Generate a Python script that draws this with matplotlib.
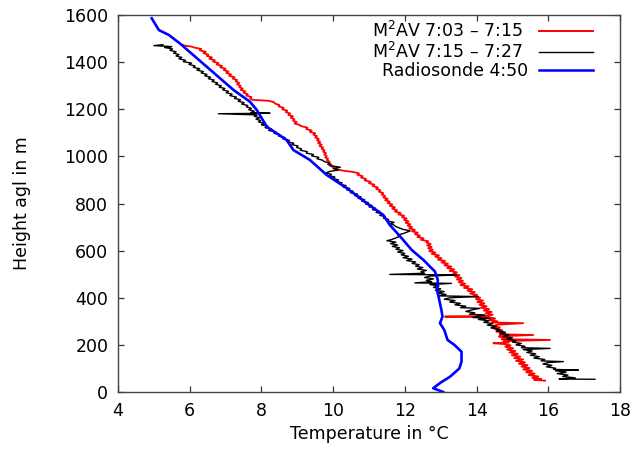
import matplotlib
matplotlib.use("Agg")
import matplotlib.pyplot as plt

# ---------------- data ----------------
# Radiosonde 4:50
sonde_h = [0, 16, 40, 65, 100, 129, 171, 200, 221, 263, 292, 320, 348, 376, 433, 475, 511,
           560, 603, 660, 709, 751, 801, 865, 921, 985, 1027, 1070, 1126, 1197, 1232, 1282,
           1381, 1480, 1515, 1536, 1586]
sonde_t = [13.07, 12.79, 13.00, 13.26, 13.52, 13.58, 13.58, 13.38, 13.19, 13.10, 12.98, 13.05,
           13.02, 12.98, 12.90, 12.92, 12.84, 12.52, 12.19, 11.87, 11.58, 11.40, 10.94, 10.38,
           9.82, 9.35, 8.89, 8.70, 8.15, 7.87, 7.68, 7.22, 6.47, 5.72, 5.42, 5.14, 4.94]

# M2AV 7:15 - 7:27 (black)
m2b_h = [54, 55, 60, 66, 72, 78, 84, 90, 93, 96, 101, 107, 113, 119, 125, 129, 132, 138, 144, 150,
         156, 162, 168, 174, 180, 185, 188, 194, 200, 206, 212, 218, 224, 230, 236, 242, 248, 254,
         260, 266, 272, 278, 284, 290, 296, 302, 308, 313, 316, 322, 327, 330, 336, 342, 348, 355,
         358, 364, 370, 376, 382, 388, 394, 400, 405, 408, 414, 420, 426, 432, 438, 444, 450, 456,
         461, 463, 468, 474, 480, 486, 492, 497, 499, 504, 510, 516, 522, 528, 534, 540, 546, 552,
         558, 564, 570, 576, 582, 588, 594, 600, 606, 612, 618, 624, 630, 636, 642, 648, 654, 660,
         666, 672, 678, 684, 690, 696, 702, 708, 714, 720, 726, 732, 738, 744, 750, 756, 762, 768,
         774, 780, 786, 792, 798, 804, 810, 816, 822, 828, 834, 840, 846, 852, 858, 864, 870, 876,
         882, 888, 894, 900, 906, 912, 918, 924, 930, 936, 942, 948, 954, 960, 966, 972, 978, 984,
         990, 996, 1002, 1008, 1014, 1020, 1026, 1032, 1038, 1044, 1050, 1056, 1062, 1068, 1074,
         1080, 1086, 1092, 1098, 1104, 1110, 1116, 1122, 1128, 1134, 1140, 1146, 1152, 1158, 1164,
         1170, 1176, 1181, 1183, 1186, 1192, 1198, 1204, 1210, 1216, 1222, 1228, 1234, 1240, 1246,
         1252, 1258, 1264, 1270, 1276, 1282, 1288, 1294, 1300, 1306, 1312, 1318, 1324, 1330, 1336,
         1342, 1348, 1354, 1360, 1366, 1372, 1378, 1384, 1390, 1396, 1402, 1408, 1414, 1420, 1426,
         1432, 1438, 1444, 1450, 1456, 1462, 1466, 1470, 1474]
m2b_t = [17.30, 16.30, 16.75, 16.40, 16.55, 16.25, 16.50, 16.20, 16.84, 16.15, 16.20, 15.95, 16.10,
         15.85, 16.00, 16.42, 15.80, 15.90, 15.60, 15.75, 15.50, 15.65, 15.40, 15.55, 15.30, 16.05,
         15.25, 15.35, 15.10, 15.25, 15.00, 15.10, 14.85, 15.00, 14.75, 14.90, 14.65, 14.80, 14.55,
         14.65, 14.40, 14.55, 14.30, 14.45, 14.20, 14.35, 14.05, 14.37, 13.90, 14.05, 14.23, 13.80,
         13.95, 13.70, 13.85, 14.09, 13.55, 13.70, 13.40, 13.55, 13.25, 13.40, 13.10, 13.25, 14.05,
         12.95, 13.15, 12.90, 13.10, 12.85, 13.00, 12.80, 12.95, 12.70, 13.30, 12.28, 12.75, 12.60,
         12.80, 12.55, 12.70, 13.44, 11.58, 12.55, 12.45, 12.60, 12.35, 12.50, 12.30, 12.40, 12.20,
         12.30, 12.05, 12.20, 11.95, 12.10, 11.90, 12.00, 11.80, 11.95, 11.75, 11.85, 11.65, 11.80,
         11.60, 11.75, 11.50, 11.65, 11.75, 11.85, 11.80, 11.95, 12.05, 12.15, 11.95, 11.85, 11.75,
         11.70, 11.60, 11.70, 11.50, 11.55, 11.40, 11.45, 11.30, 11.38, 11.20, 11.28, 11.10, 11.18,
         11.00, 11.08, 10.90, 10.98, 10.80, 10.88, 10.70, 10.78, 10.60, 10.68, 10.48, 10.56, 10.38,
         10.46, 10.28, 10.36, 10.18, 10.25, 10.08, 10.15, 9.98, 10.05, 9.90, 9.95, 9.80, 9.90, 10.15,
         10.00, 10.20, 9.95, 9.85, 9.90, 9.75, 9.70, 9.55, 9.60, 9.40, 9.45, 9.25, 9.28, 9.08, 9.12,
         8.98, 9.02, 8.85, 8.90, 8.72, 8.78, 8.60, 8.65, 8.48, 8.52, 8.35, 8.40, 8.20, 8.28, 8.10,
         8.18, 8.00, 8.08, 7.92, 7.98, 7.85, 7.95, 7.80, 7.88, 6.80, 8.24, 7.70, 7.80, 7.65, 7.72,
         7.58, 7.62, 7.45, 7.52, 7.35, 7.42, 7.25, 7.30, 7.12, 7.18, 7.02, 7.08, 6.92, 6.98, 6.82,
         6.88, 6.72, 6.78, 6.62, 6.68, 6.52, 6.58, 6.42, 6.48, 6.32, 6.38, 6.20, 6.28, 6.10, 6.15,
         5.98, 6.05, 5.82, 5.88, 5.70, 5.78, 5.62, 5.70, 5.55, 5.62, 5.45, 5.52, 5.30, 5.50, 5.00,
         5.25]

# M2AV 7:03 - 7:15 (red)
m2r_h = [48, 52, 56, 60, 66, 72, 78, 84, 90, 96, 102, 108, 114, 120, 126, 132, 138, 144, 150, 156,
         162, 168, 174, 180, 186, 192, 198, 204, 207, 210, 216, 221, 224, 230, 236, 242, 245, 250,
         256, 262, 268, 274, 280, 286, 292, 295, 300, 306, 312, 318, 320, 323, 328, 334, 340, 346,
         352, 358, 364, 370, 376, 382, 388, 394, 400, 406, 412, 418, 424, 430, 436, 442, 448, 454,
         460, 466, 472, 478, 484, 490, 496, 502, 508, 514, 520, 526, 532, 538, 544, 550, 556, 562,
         568, 574, 580, 586, 592, 598, 604, 610, 616, 622, 628, 634, 640, 646, 652, 658, 664, 670,
         676, 682, 688, 694, 700, 706, 712, 718, 724, 730, 736, 742, 748, 754, 760, 766, 772, 778,
         784, 790, 796, 802, 808, 814, 820, 826, 832, 838, 844, 850, 856, 862, 868, 874, 880, 886,
         892, 898, 904, 910, 916, 922, 928, 934, 937, 940, 944, 948, 954, 960, 966, 972, 978, 984,
         990, 996, 1002, 1008, 1014, 1020, 1026, 1032, 1038, 1044, 1050, 1056, 1062, 1068, 1074,
         1080, 1086, 1092, 1098, 1104, 1110, 1116, 1122, 1128, 1134, 1140, 1146, 1152, 1158, 1164,
         1170, 1176, 1182, 1188, 1194, 1200, 1206, 1212, 1218, 1224, 1230, 1236, 1238, 1240, 1246,
         1252, 1258, 1264, 1270, 1276, 1282, 1288, 1294, 1300, 1306, 1312, 1318, 1324, 1330, 1336,
         1342, 1348, 1354, 1360, 1366, 1372, 1378, 1384, 1390, 1396, 1402, 1408, 1414, 1420, 1426,
         1432, 1438, 1444, 1450, 1456, 1462, 1466, 1470, 1473]
m2r_t = [15.91, 15.60, 15.80, 15.55, 15.72, 15.45, 15.62, 15.38, 15.55, 15.30, 15.48, 15.25, 15.42,
         15.18, 15.35, 15.10, 15.30, 15.05, 15.22, 14.98, 15.15, 14.92, 15.08, 14.85, 15.02, 14.80,
         14.95, 14.72, 14.47, 14.90, 14.75, 16.05, 14.70, 14.85, 14.62, 15.58, 14.65, 14.80, 14.55,
         14.72, 14.50, 14.65, 14.45, 14.60, 15.30, 14.42, 14.58, 14.35, 14.52, 14.30, 13.12, 14.30,
         14.45, 14.25, 14.42, 14.20, 14.35, 14.12, 14.28, 14.08, 14.22, 14.02, 14.18, 13.98, 14.10,
         13.90, 14.02, 13.82, 13.95, 13.75, 13.88, 13.65, 13.78, 13.55, 13.68, 13.50, 13.62, 13.45,
         13.58, 13.40, 13.52, 13.35, 13.45, 13.25, 13.38, 13.18, 13.30, 13.10, 13.20, 13.02, 13.12,
         12.92, 13.02, 12.85, 12.95, 12.75, 12.85, 12.68, 12.78, 12.65, 12.75, 12.62, 12.72, 12.60,
         12.65, 12.45, 12.52, 12.35, 12.42, 12.28, 12.36, 12.20, 12.28, 12.12, 12.20, 12.08, 12.15,
         12.02, 12.10, 11.98, 12.05, 11.92, 11.98, 11.82, 11.88, 11.72, 11.78, 11.65, 11.72, 11.58,
         11.65, 11.52, 11.58, 11.45, 11.52, 11.40, 11.45, 11.35, 11.40, 11.28, 11.32, 11.20, 11.25,
         11.10, 11.15, 11.00, 11.05, 10.88, 10.92, 10.78, 10.82, 10.68, 10.72, 10.55, 10.40, 10.25,
         10.15, 10.05, 10.00, 9.92, 9.95, 9.88, 9.90, 9.82, 9.86, 9.78, 9.82, 9.75, 9.80, 9.72, 9.76,
         9.68, 9.72, 9.62, 9.68, 9.58, 9.64, 9.55, 9.60, 9.50, 9.55, 9.45, 9.50, 9.35, 9.40, 9.25,
         9.28, 9.12, 9.05, 8.92, 8.98, 8.88, 8.92, 8.82, 8.88, 8.75, 8.80, 8.68, 8.72, 8.58, 8.62,
         8.48, 8.50, 8.38, 8.35, 8.20, 7.95, 7.75, 7.68, 7.72, 7.58, 7.62, 7.50, 7.55, 7.42, 7.48,
         7.38, 7.42, 7.32, 7.38, 7.28, 7.32, 7.20, 7.25, 7.10, 7.15, 7.02, 7.08, 6.95, 7.00, 6.85,
         6.90, 6.75, 6.80, 6.65, 6.70, 6.55, 6.62, 6.48, 6.52, 6.38, 6.45, 6.28, 6.32, 6.12, 6.05,
         5.85, 5.82]

labels = ["M$^2$AV 7:03 – 7:15", "M$^2$AV 7:15 – 7:27", "Radiosonde 4:50"]
x_ticks = [4, 6, 8, 10, 12, 14, 16, 18]
y_ticks = [0, 200, 400, 600, 800, 1000, 1200, 1400, 1600]

# ---------------- plot ----------------
plt.rcParams['font.family'] = ['DejaVu Sans']
plt.rcParams['mathtext.fontset'] = 'dejavusans'
FS = 12.5

fig = plt.figure(figsize=(6.44, 4.55), dpi=100)
ax = fig.add_axes([118 / 644, 1 - 392 / 455, (620 - 118) / 644, (392 - 15) / 455])

ax.plot(m2r_t, m2r_h, color='#ff0000', lw=1.3, label=labels[0])
ax.plot(m2b_t, m2b_h, color='black', lw=1.0, label=labels[1])
ax.plot(sonde_t, sonde_h, color='#0000ff', lw=1.9, label=labels[2])

ax.set_xlim(4, 18)
ax.set_ylim(0, 1600)
ax.set_xticks(x_ticks)
ax.set_yticks(y_ticks)
ax.tick_params(direction='in', length=4.5, width=0.9, top=True, right=True,
               labelsize=FS, pad=7, colors='#333333', labelcolor='black')
for s in ax.spines.values():
    s.set_color('#444444')
    s.set_linewidth(1.0)

ax.set_xlabel("Temperature in °C", fontsize=FS, labelpad=4)
ax.set_ylabel("Height agl in m", fontsize=FS, labelpad=24)

leg = ax.legend(loc='upper right', bbox_to_anchor=(0.958, 1.0), frameon=False,
                markerfirst=False, fontsize=FS,
                handlelength=3.1, handletextpad=0.9, labelspacing=0.02,
                borderaxespad=0.1, borderpad=0.25)
for ln in leg.get_lines():
    c = ln.get_color()
    ln.set_linewidth(1.8 if c == '#0000ff' else (1.4 if c == '#ff0000' else 1.0))

# right-align the legend texts (gnuplot style)
fig.canvas.draw()
renderer = fig.canvas.get_renderer()
texts = leg.get_texts()
widths = [t.get_window_extent(renderer).width for t in texts]
wmax = max(widths)
for t, w in zip(texts, widths):
    t.set_position((wmax - w, 0))

fig.savefig("out.png", dpi=100)
